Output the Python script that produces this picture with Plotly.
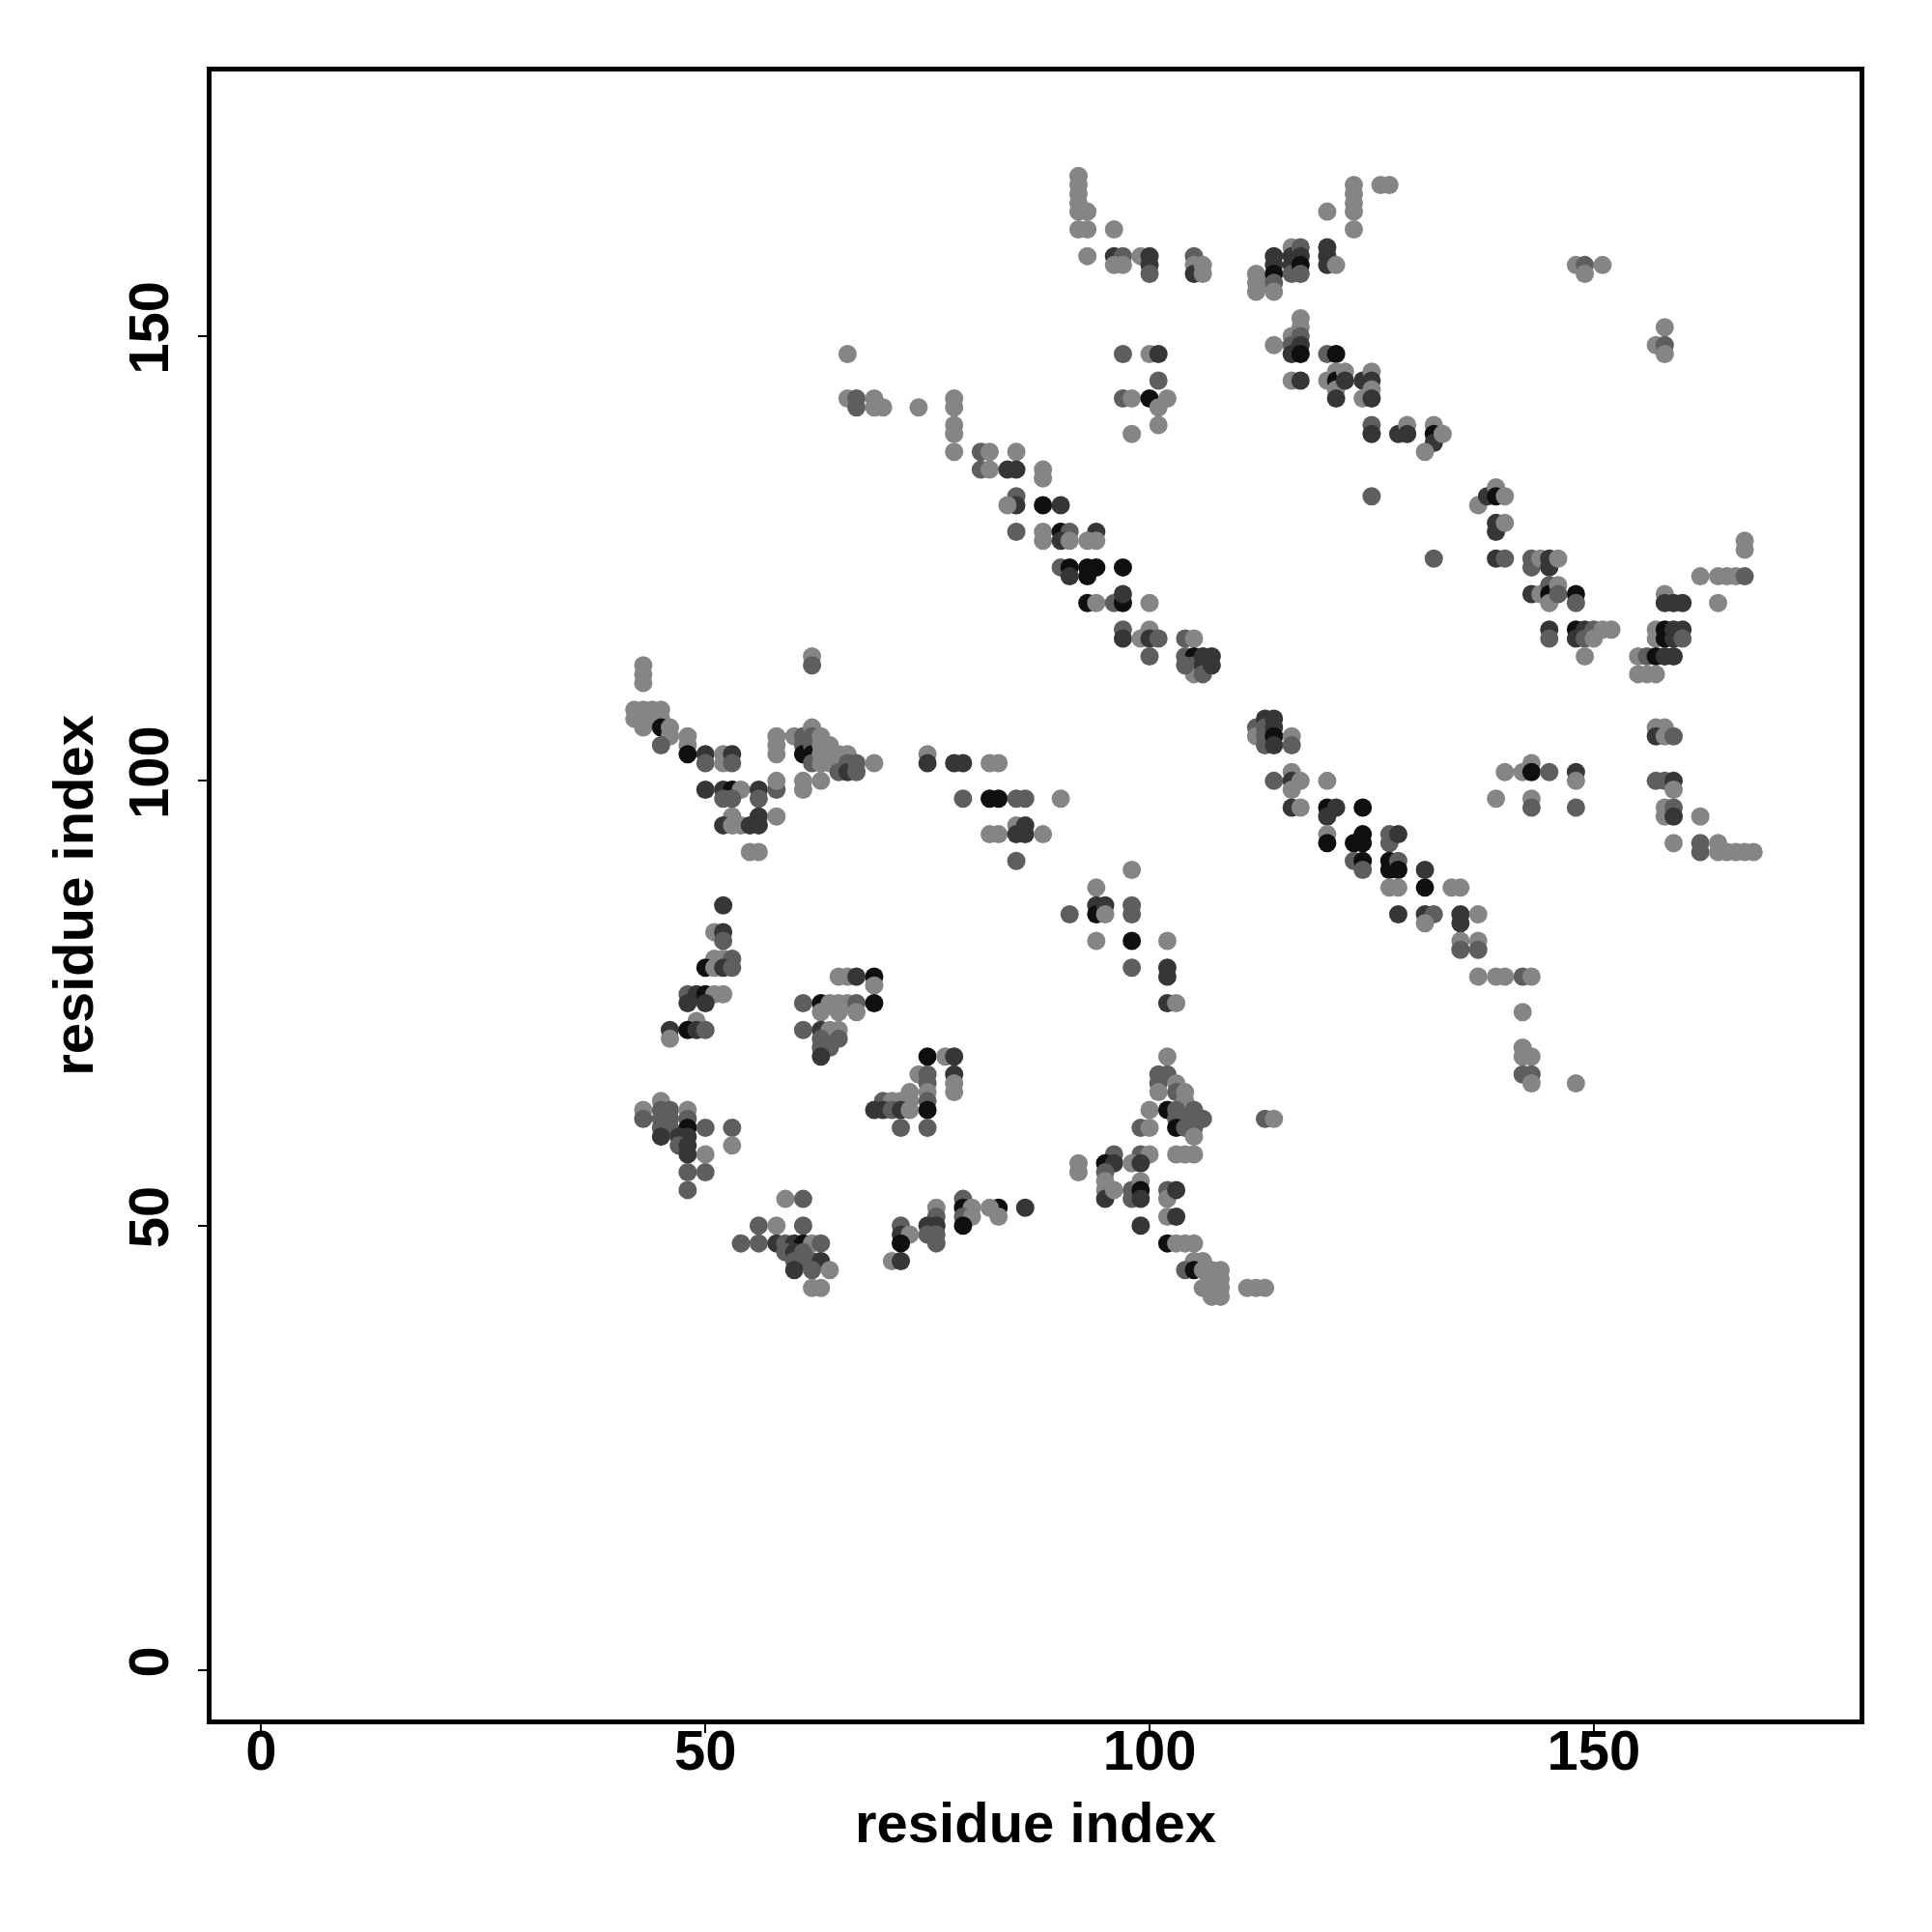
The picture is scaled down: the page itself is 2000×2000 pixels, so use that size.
import plotly.graph_objects as go

# contact points: residue i (x), residue j (y), contact strength (0 light .. 1 dark)
L, M, D, B = 0.05, 0.35, 0.65, 0.95

contacts = [
    # top-left
    (66,148,L),(66,143,L),(67,143,M),(67,142,M),(69,143,L),(69,142,L),(70,142,L),(74,142,L),
    (78,143,L),(78,142,L),(78,140,L),(78,139,L),(78,137,L),
    (81,137,M),(82,137,L),(81,135,M),(82,135,L),
    (85,137,L),(84,135,D),(85,135,D),(88,135,L),(88,134,L),
    (85,132,M),(85,131,D),(84,131,L),(88,131,B),(90,131,D),
    (85,128,M),(88,128,L),(90,128,B),(91,128,M),(94,128,D),
    # top middle
    (92,168,L),(92,167,L),(92,166,L),(92,165,L),(92,164,L),(93,164,L),(92,162,L),(93,162,L),(96,162,L),
    (93,159,L),(96,159,D),(97,159,M),(96,158,L),(97,158,L),(99,159,L),(100,159,D),(100,158,D),(100,157,M),
    (105,159,M),(105,158,L),(105,157,D),(106,158,L),(106,157,L),
    (112,157,L),(112,156,L),(112,155,L),(113,156,L),
    (114,159,D),(114,158,D),(114,157,B),(114,156,M),(114,155,L),
    (116,160,L),(116,159,D),(116,158,D),(116,157,M),(117,160,M),(117,159,D),(117,158,B),(117,157,M),
    (120,160,D),(120,159,D),(120,158,D),(121,158,L),(120,164,L),
    (123,167,L),(123,166,L),(123,165,L),(123,164,L),(123,162,L),(126,167,L),(127,167,L),
    (97,148,M),(100,148,L),(101,148,D),(101,145,M),(97,143,M),(98,143,L),(100,143,B),(102,143,L),
    (101,142,L),(101,140,L),(98,139,L),
    (114,149,L),(116,150,L),(116,149,M),(116,148,D),(117,152,L),(117,151,L),(117,150,M),(117,149,D),(117,148,B),
    (120,148,M),(121,148,B),(116,145,L),(117,145,D),
    (120,145,L),(121,146,L),(121,145,B),(121,144,L),(121,143,D),(122,146,L),(122,145,D),
    (124,145,D),(124,143,L),(125,146,L),(125,145,D),(125,144,L),(125,143,D),
    (125,140,M),(125,139,D),(125,132,M),
    # top right
    (148,158,L),(149,158,M),(151,158,L),(149,157,L),
    (158,151,L),(157,149,L),(158,149,M),(158,148,L),
    (128,139,D),(129,140,L),(129,139,D),
    (132,140,L),(132,139,B),(132,138,D),(133,139,L),(131,137,L),
    (137,131,L),(138,132,D),(139,133,L),(139,132,B),(140,132,L),(139,129,D),(139,128,D),(140,129,L),
    (167,127,L),(167,126,L),
    (132,125,M),(139,125,D),(140,125,M),
    (143,125,M),(143,124,M),(144,125,L),(145,125,D),(145,124,D),(146,125,L),
    (143,121,D),(144,121,L),(145,122,M),(145,121,B),(145,120,L),(146,122,L),(146,121,M),(148,121,B),(148,120,M),
    (145,117,D),(145,116,M),(148,117,B),(148,116,D),(149,117,D),(149,116,M),(150,117,M),(150,116,L),
    (151,117,L),(152,117,L),(149,114,L),
    (158,121,L),(158,120,D),(159,120,D),(160,120,D),
    (157,117,L),(157,116,L),(158,117,B),(158,116,B),(159,117,D),(159,116,D),(160,117,D),(160,116,M),
    (155,114,L),(156,114,M),(157,114,B),(158,114,D),(159,114,D),(155,112,L),(156,112,L),(157,112,L),
    (162,123,L),(164,123,L),(165,123,L),(166,123,L),(167,123,M),(164,120,L),
    (157,106,L),(158,106,L),(157,105,D),(158,105,L),(159,105,M),
    (140,101,L),(142,101,L),(143,102,L),(143,101,B),(145,101,M),(148,101,D),(148,100,L),
    (139,98,L),(143,98,L),(143,97,M),(148,97,M),
    (157,100,M),(158,100,M),(159,100,D),(159,99,L),(158,97,L),(158,96,L),(159,97,M),(159,96,D),(162,96,L),
    (159,93,L),(162,93,M),(162,92,M),(164,93,L),(164,92,L),(165,92,L),(166,92,L),(167,92,L),(168,92,L),
    # diagonal band (lower right)
    (127,94,M),(127,93,M),(128,94,D),(127,91,B),(127,90,B),(128,91,M),(128,90,B),(131,90,D),(131,88,B),
    (127,88,L),(128,88,L),(134,88,L),(135,88,L),
    (128,85,D),(131,85,D),(132,85,M),(135,85,D),(135,84,D),(137,85,L),(131,84,L),
    (135,82,L),(135,81,M),(137,82,L),(137,81,M),
    (137,78,L),(139,78,L),(140,78,L),(142,78,M),(143,78,L),
    (142,74,L),(142,70,L),(142,69,L),(143,69,L),(142,67,M),(143,67,M),(143,66,L),(148,66,L),
    # central diagonal
    (88,127,L),(90,127,D),(91,127,L),(93,127,L),(94,127,L),
    (90,124,M),(91,124,B),(93,124,B),(94,124,B),(97,124,B),(91,123,D),(93,123,B),
    (93,120,B),(94,120,L),(96,120,M),(97,120,B),(97,121,D),(100,120,L),
    (97,117,M),(100,117,L),(97,116,D),(99,116,L),(100,116,D),(101,116,M),(100,114,M),
    (104,116,M),(105,116,L),(104,114,M),(105,114,B),(105,113,M),(105,112,L),(106,114,D),(106,113,D),
    (106,112,M),(107,114,D),(107,113,D),(104,113,M),
    (112,106,M),(112,105,L),(113,107,D),(113,106,M),(113,105,M),(113,104,M),
    (114,107,D),(114,106,D),(114,105,B),(114,104,D),(116,105,L),(116,104,M),
    (114,100,M),(116,101,L),(116,100,D),(116,99,L),(117,100,L),(120,100,L),
    (116,97,D),(117,97,L),(120,97,B),(121,97,D),(124,97,B),(120,96,D),
    (120,94,L),(120,93,B),(123,93,B),(124,94,B),(124,93,B),
    (123,91,M),(124,91,B),(124,90,M),
    # middle left
    (83,102,L),(83,98,B),(85,98,M),(86,98,M),(90,98,L),
    (85,95,L),(86,95,D),(83,94,L),(85,94,D),(86,94,D),(88,94,L),(85,91,M),
    (98,90,L),(94,88,L),(94,86,D),(94,85,B),(95,86,D),(95,85,L),(91,85,M),(98,86,M),(98,85,M),
    (94,82,L),(98,82,B),(102,82,L),(98,79,M),(102,79,D),(102,78,D),(102,75,D),(103,75,L),(102,69,L),
    (101,67,M),(102,67,M),(101,66,M),(103,66,L),(101,65,L),(103,65,M),(104,65,L),(104,64,L),
    (100,63,L),(102,63,B),(103,63,M),(105,63,M),(103,62,M),(104,62,M),(106,62,M),
    (103,61,B),(104,61,M),(105,61,M),(105,60,L),(99,61,M),(100,61,L),
    (96,58,M),(99,58,M),(100,58,L),(103,58,L),(104,58,L),(105,58,L),
    (92,57,L),(92,56,L),(95,57,B),(96,57,D),(98,57,L),(99,57,D),
    (95,56,M),(95,55,L),(95,54,L),(95,53,D),(96,54,L),(98,54,M),(98,53,M),(99,55,L),(99,54,B),(99,53,D),(99,50,D),
    (102,54,M),(102,53,L),(102,51,L),(103,54,D),(103,51,D),(102,48,B),(103,48,L),(104,48,L),(105,48,L),
    (105,46,L),(106,46,L),(104,45,M),(105,45,B),(106,45,L),(107,45,L),(107,44,L),(107,43,L),(107,42,L),
    (108,45,L),(108,44,L),(108,43,L),(108,42,L),(106,43,L),
    (111,43,L),(112,43,L),(113,43,L),(113,62,M),(114,62,L),
    (83,52,B),(83,51,L),(86,52,D),
    # left clusters
    (43,113,L),(43,112,L),(43,111,L),(62,114,L),(62,113,M),
    (42,108,L),(43,108,L),(44,108,L),(45,108,L),(42,107,L),(43,107,L),(44,107,L),(45,107,L),
    (43,106,L),(45,106,B),(46,106,L),(46,105,L),(45,104,M),
    (48,105,L),(48,104,L),(48,103,B),(50,103,D),(50,102,M),(52,103,L),(52,102,L),(53,103,D),(53,102,M),
    (58,105,L),(58,104,L),(58,103,L),(60,105,L),
    (61,105,M),(61,104,M),(61,103,B),(62,106,L),(62,105,M),(62,104,M),(62,103,B),(62,102,M),
    (63,105,L),(63,104,L),(63,103,L),(63,102,L),(64,104,L),(64,103,L),(64,102,L),
    (65,103,L),(65,102,L),(65,101,M),(66,103,L),(66,102,M),(66,101,D),(67,102,M),(67,101,M),(69,102,L),
    (75,103,L),(75,102,D),(78,102,D),(79,102,D),(82,102,L),
    (79,98,M),(82,98,B),(82,94,L),
    (50,99,D),(52,99,D),(53,99,B),(54,99,L),(56,99,D),(58,99,M),(52,98,M),(53,98,M),(56,98,M),
    (58,100,L),(61,99,L),(61,100,L),(63,100,L),
    (53,96,L),(56,96,D),(58,96,L),(52,95,D),(53,95,L),(54,95,L),(55,95,D),(56,95,D),
    (55,92,L),(56,92,L),(52,86,D),
    (51,83,L),(52,83,D),(52,82,M),(51,80,L),(52,80,L),(53,80,M),(50,79,B),(51,79,L),(52,79,D),(53,79,M),
    (48,76,M),(49,76,D),(50,76,B),(51,76,L),(52,76,L),(48,75,D),(50,75,D),(49,73,L),
    (46,72,D),(48,72,B),(49,72,D),(50,72,M),(46,71,L),
    (65,78,L),(66,78,L),(67,78,D),(69,78,B),(69,77,L),
    (61,75,M),(63,75,B),(64,75,L),(65,75,L),(66,75,L),(67,75,M),(69,75,B),(63,74,L),(65,74,L),(67,74,L),
    (61,72,M),(63,72,D),(64,72,L),(65,72,L),(63,71,M),(65,71,M),(63,70,M),(64,70,M),(63,69,D),
    (75,69,B),(77,69,L),(78,69,D),(74,67,L),(75,67,M),(78,67,D),(75,66,M),(78,66,L),(73,65,L),(75,65,L),(78,65,L),
    (70,64,M),(71,64,L),(72,64,L),(73,64,L),(75,64,M),
    (69,63,D),(70,63,D),(71,63,M),(72,63,D),(73,63,L),(75,63,B),(72,61,M),(75,61,M),
    (43,63,L),(45,64,L),(45,63,M),(46,63,M),(48,63,L),(43,62,M),(45,62,M),(46,62,M),(48,62,M),
    (45,61,M),(46,61,M),(48,61,B),(50,61,M),(53,61,M),(45,60,D),(47,60,D),(48,60,D),(47,59,M),(48,59,D),
    (53,59,L),(48,58,D),(50,58,L),(48,56,M),(50,56,M),(48,54,M),
    (59,53,L),(61,53,M),(56,50,M),(58,50,L),(61,50,M),
    (54,48,M),(56,48,M),(58,48,D),(59,48,M),(60,48,D),(61,48,B),(62,48,L),(63,48,M),
    (59,47,M),(60,47,D),(61,47,M),(60,46,M),(61,46,M),(62,46,M),(63,46,D),(60,45,D),(62,45,M),(64,45,L),
    (62,43,L),(63,43,L),
    (79,53,M),(79,52,B),(80,52,L),(82,52,L),(79,51,M),(80,51,L),(76,52,L),(76,51,M),
    (75,50,D),(76,50,D),(75,49,M),(76,49,M),(76,48,M),(79,50,B),
    (72,50,M),(72,49,D),(73,49,L),(72,48,B),(71,46,L),(72,46,D),
]

residue_i = [c[0] for c in contacts]
residue_j = [c[1] for c in contacts]
strength = [c[2] for c in contacts]

x_ticks = [0, 50, 100, 150]
y_ticks = [0, 50, 100, 150]
axis_title = "residue index"

FONT = "Liberation Sans, Arial, Helvetica, sans-serif"

fig = go.Figure(
    go.Scatter(
        x=residue_i, y=residue_j, mode="markers",
        marker=dict(
            size=19, color=strength, cmin=0, cmax=1,
            colorscale=[[0, "rgb(140,140,140)"], [1, "rgb(8,8,8)"]],
            line=dict(width=0), opacity=1,
        ),
        showlegend=False,
    )
)

axis_common = dict(
    showgrid=False, zeroline=False,
    showline=True, linecolor="black", linewidth=5, mirror=True,
    ticks="outside", ticklen=9, tickwidth=2, tickcolor="black",
    tickfont=dict(family=FONT, size=58, color="black", weight="bold"),
)

fig.update_xaxes(**axis_common, range=[-5.6, 179.93],
                 tickvals=x_ticks, ticktext=[str(v) for v in x_ticks],
                 ticklabelstandoff=-32)
fig.update_yaxes(**axis_common, range=[-5.53, 179.76],
                 tickvals=y_ticks, ticktext=[str(v) for v in y_ticks],
                 tickangle=-90, ticklabelstandoff=8)

fig.update_layout(
    width=1992, height=1992,
    margin=dict(l=210.5, r=74.5, t=66, b=219.5),
    plot_bgcolor="white", paper_bgcolor="white",
    font=dict(family=FONT, color="black"),
    annotations=[
        dict(text=f"<b>{axis_title}</b>", xref="paper", yref="paper", x=0.5, y=-0.0625,
             xanchor="center", yanchor="middle", showarrow=False,
             font=dict(family=FONT, size=58, color="black")),
        dict(text=f"<b>{axis_title}</b>", xref="paper", yref="paper", x=-0.0845, y=0.5,
             xanchor="center", yanchor="middle", textangle=-90, showarrow=False,
             font=dict(family=FONT, size=58, color="black")),
    ],
)

fig.write_html("out.html")
